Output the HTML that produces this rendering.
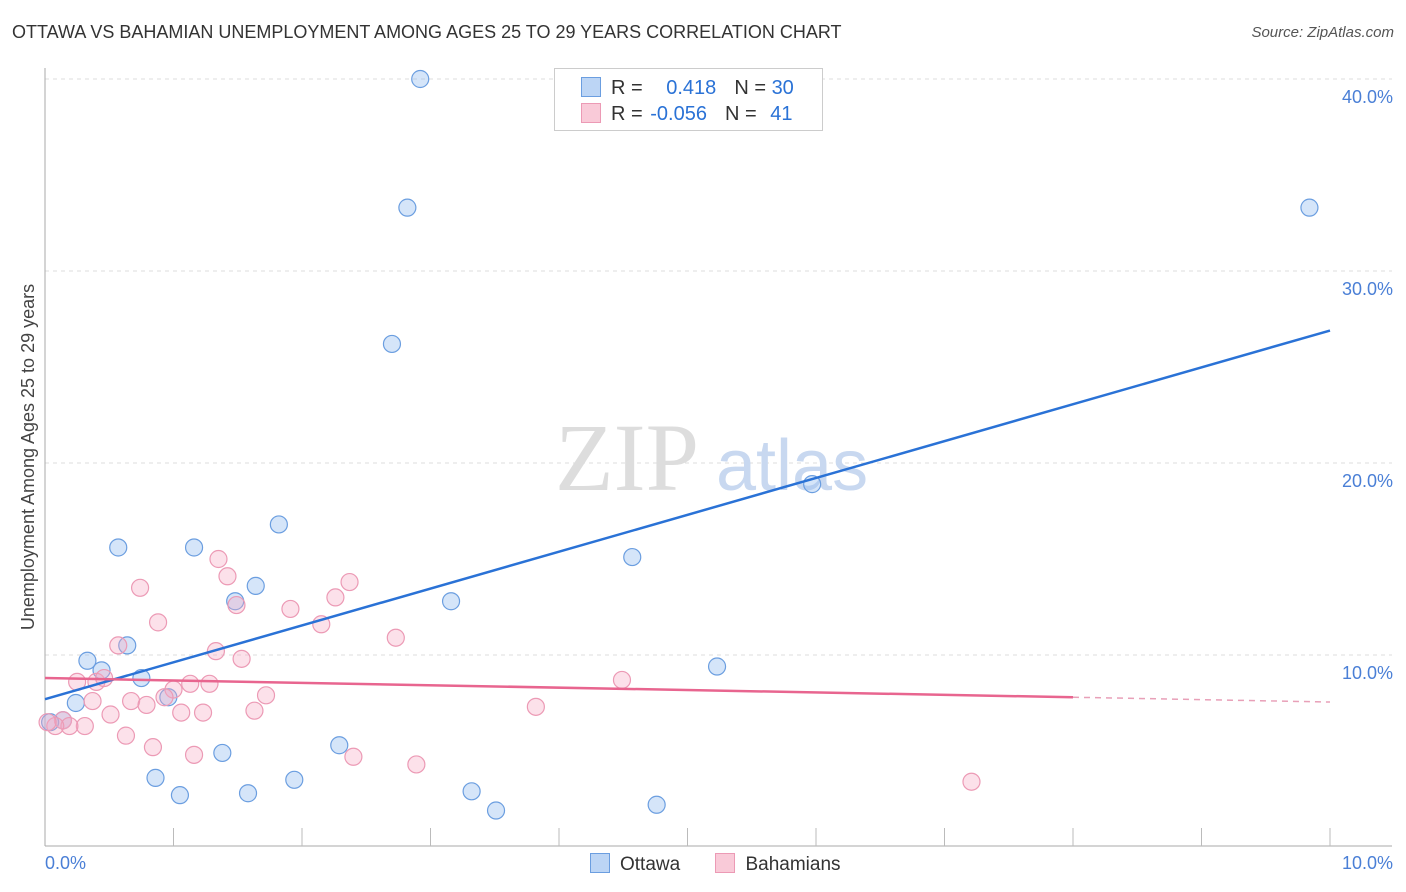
<!DOCTYPE html>
<html><head><meta charset="utf-8"><style>
body{margin:0;background:#fff;font-family:"Liberation Sans",sans-serif;}
#wrap{position:relative;width:1406px;height:892px;}
.t{position:absolute;}
</style></head><body>
<div id="wrap">
<div class="t" style="left:12px;top:22px;font-size:18px;color:#333;">OTTAWA VS BAHAMIAN UNEMPLOYMENT AMONG AGES 25 TO 29 YEARS CORRELATION CHART</div>
<div class="t" style="right:12px;top:24px;font-size:15px;color:#555;font-style:italic;">Source: ZipAtlas.com</div>
<svg id="svg" width="1406" height="892" style="position:absolute;left:0;top:0"></svg>
</div>
<script>
const ottawaX=[2.92,2.82,9.84,2.70,5.97,1.82,0.57,1.16,4.57,1.64,1.48,3.16,0.64,0.33,0.44,0.75,0.96,0.24,5.23,0.14,0.04,1.38,2.29,0.86,1.94,1.05,1.58,3.32,3.51,4.76];
const ottawaY=[40.0,33.3,33.3,26.2,18.9,16.8,15.6,15.6,15.1,13.6,12.8,12.8,10.5,9.7,9.2,8.8,7.8,7.5,9.4,6.6,6.5,4.9,5.3,3.6,3.5,2.7,2.8,2.9,1.9,2.2];
const bahX=[1.35,1.42,0.74,2.37,1.49,2.26,1.91,0.88,2.15,2.73,0.57,1.33,1.53,0.40,0.46,0.25,1.13,1.28,1.00,1.72,0.93,0.67,0.37,0.79,1.06,1.23,1.63,0.51,4.49,3.82,0.14,0.31,0.19,0.08,0.63,0.84,1.16,2.40,2.89,7.21,0.02];
const bahY=[15.0,14.1,13.5,13.8,12.6,13.0,12.4,11.7,11.6,10.9,10.5,10.2,9.8,8.6,8.8,8.6,8.5,8.5,8.2,7.9,7.8,7.6,7.6,7.4,7.0,7.0,7.1,6.9,8.7,7.3,6.6,6.3,6.3,6.3,5.8,5.2,4.8,4.7,4.3,3.4,6.5];
const trendOttawa=[7.7,26.9];
const trendBah=[8.8,7.55];
const xTicks=["0.0%","10.0%"];
const yTicks=[10,20,30,40];
const X=v=>45+v*128.5, Y=v=>847-v*19.2;
const NS="http://www.w3.org/2000/svg",svg=document.getElementById('svg');
function mk(tag,a){const e=document.createElementNS(NS,tag);for(const k in a)e.setAttribute(k,a[k]);svg.appendChild(e);return e;}
// grid
yTicks.forEach(v=>{
const g=mk('line',{x1:45,x2:1392,y1:Y(v),y2:Y(v),stroke:'#ddd','stroke-dasharray':'4,4'});


const t=mk('text',{x:1393,y:Y(v)+24,'text-anchor':'end',fill:'#4a7fd6','font-size':18,'font-family':'Liberation Sans'});
t.textContent=v.toFixed(1)+'%';


});
const ax=mk('line',{x1:45,x2:45,y1:68,y2:846,stroke:'#aaa'});


const bx=mk('line',{x1:45,x2:1392,y1:846,y2:846,stroke:'#aaa'});


for(let i=1;i<=10;i++){const tk=mk('line',{x1:X(i),x2:X(i),y1:828,y2:846,stroke:'#bbb'});

}
[[0,'start',X(0)],[1,'end',1393]].forEach(([i,a,x])=>{const t=mk('text',{x:x,y:869,'text-anchor':a,fill:'#4a7fd6','font-size':18,'font-family':'Liberation Sans'});t.textContent=xTicks[i];

});
const yt=mk('text',{x:34,y:457,transform:'rotate(-90 34 457)','text-anchor':'middle',fill:'#444','font-size':18,'font-family':'Liberation Sans'});
yt.textContent='Unemployment Among Ages 25 to 29 years';


const w1=mk('text',{x:555,y:490,fill:'#ddd','font-size':96,'font-family':'Liberation Serif'});w1.textContent='ZIP';


const w2=mk('text',{x:716,y:490,fill:'#c8d8f0','font-size':72,'font-family':'Liberation Sans'});w2.textContent='atlas';


ottawaX.forEach((x,i)=>{const c=mk('circle',{cx:X(x),cy:Y(ottawaY[i]),r:8.5,fill:'rgba(150,190,240,0.4)',stroke:'#6b9ee0','stroke-width':1.2});

});
bahX.forEach((x,i)=>{const c=mk('circle',{cx:X(x),cy:Y(bahY[i]),r:8.5,fill:'rgba(245,170,195,0.35)',stroke:'#ec9ab5','stroke-width':1.2});

});
const l1=mk('line',{x1:X(0),y1:Y(trendOttawa[0]),x2:X(10),y2:Y(trendOttawa[1]),stroke:'#2a72d6','stroke-width':2.5});


const pm=trendBah[0]+(trendBah[1]-trendBah[0])*0.8;
const l2=mk('line',{x1:X(0),y1:Y(trendBah[0]),x2:X(8),y2:Y(pm),stroke:'#e8658f','stroke-width':2.5});


const l3=mk('line',{x1:X(8),y1:Y(pm),x2:X(10),y2:Y(trendBah[1]),stroke:'#e8a0b8','stroke-width':1.5,'stroke-dasharray':'6,5'});


</script>
<div class="t" style="left:554px;top:68px;width:267px;height:61px;border:1px solid #ccc;background:#fff;font-size:20px;color:#333;">
 <div style="position:absolute;left:26px;top:8px;"><span style="display:inline-block;width:18px;height:18px;background:#bcd5f5;border:1px solid #6b9ee0;vertical-align:-3px;margin-right:10px"></span>R = <span style="color:#2a72d6;margin-left:18px">0.418</span><span style="margin-left:18px">N = </span><span style="color:#2a72d6">30</span></div>
 <div style="position:absolute;left:26px;top:34px;"><span style="display:inline-block;width:18px;height:18px;background:#f9cad8;border:1px solid #ec9ab5;vertical-align:-3px;margin-right:10px"></span>R = <span style="color:#2a72d6;margin-left:2px">-0.056</span><span style="margin-left:18px">N = </span><span style="color:#2a72d6;margin-left:8px">41</span></div>
</div>
<div class="t" style="left:590px;top:853px;font-size:19px;color:#333;">
 <span><span style="display:inline-block;width:18px;height:18px;background:#bcd5f5;border:1px solid #6b9ee0;vertical-align:-3px;margin-right:10px"></span>Ottawa</span>
 <span style="margin-left:30px"><span style="display:inline-block;width:18px;height:18px;background:#f9cad8;border:1px solid #ec9ab5;vertical-align:-3px;margin-right:10px"></span>Bahamians</span>
</div>
</body></html>
